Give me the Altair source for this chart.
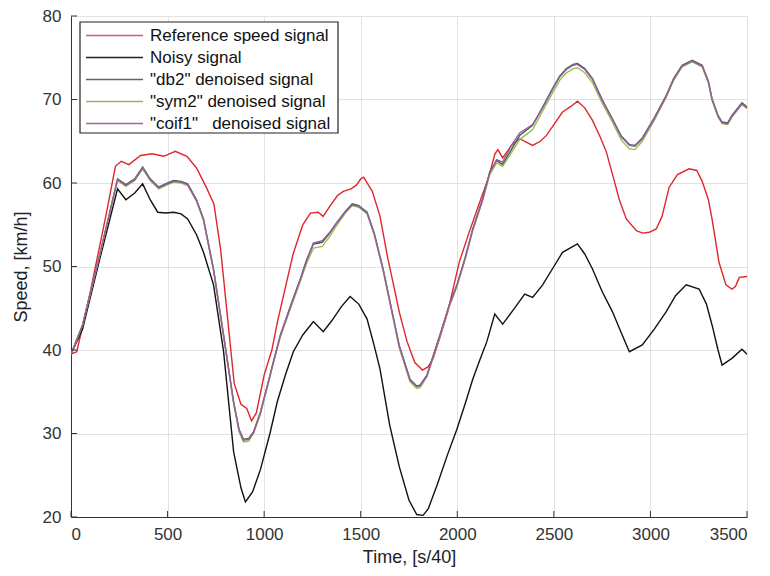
import altair as alt
import pandas as pd

# ---- Reference speed signal ----
ref_t = [0, 30, 100, 180, 230, 260, 300, 360, 420, 480,
         540, 600, 650, 700, 740, 775, 810, 845, 880, 910,
         935, 960, 1000, 1040, 1070, 1110, 1150, 1200, 1240, 1280,
         1305, 1340, 1380, 1410, 1450, 1480, 1500, 1515, 1560, 1600,
         1640, 1670, 1700, 1740, 1780, 1820, 1850, 1875, 1910, 1950,
         2010, 2060, 2116, 2160, 2195, 2210, 2235, 2280, 2323, 2390,
         2430, 2462, 2500, 2545, 2590, 2622, 2660, 2700, 2740, 2772,
         2810, 2839, 2875, 2927, 2960, 2994, 3030, 3060, 3097, 3140,
         3200, 3240, 3268, 3300, 3319, 3355, 3391, 3422, 3440, 3460,
         3500]
ref_v = [39.5, 39.8, 47.0, 56.0, 62.0, 62.6, 62.2, 63.3, 63.5, 63.2,
         63.8, 63.2, 61.8, 59.5, 57.5, 52.0, 44.0, 36.0, 33.5, 33.0,
         31.5, 32.5, 37.0, 40.0, 43.5, 47.5, 51.5, 55.0, 56.4, 56.5,
         56.0, 57.2, 58.5, 59.0, 59.3, 59.8, 60.5, 60.7, 59.0, 56.0,
         51.0, 47.8, 44.5, 41.0, 38.5, 37.6, 38.0, 39.0, 41.5, 44.5,
         50.5, 54.0, 57.7, 60.5, 63.5, 64.0, 63.0, 64.5, 65.3, 64.5,
         65.0, 65.7, 67.0, 68.5, 69.2, 69.8, 69.0, 67.5, 65.5, 63.7,
         60.5, 58.0, 55.7, 54.3, 54.0, 54.1, 54.5, 56.0, 59.5, 61.0,
         61.7, 61.5, 60.2, 58.0, 55.7, 50.5, 47.8, 47.3, 47.6, 48.7,
         48.8]

# ---- Noisy signal ----
noisy_t = [0, 60, 150, 241, 284, 330, 371, 410, 449, 490,
           532, 570, 604, 650, 686, 738, 790, 842, 880, 903,
           940, 981, 1030, 1068, 1110, 1151, 1200, 1255, 1306, 1350,
           1400, 1445, 1490, 1533, 1570, 1600, 1650, 1700, 1750, 1790,
           1823, 1850, 1895, 1950, 1998, 2040, 2080, 2120, 2153, 2194,
           2235, 2290, 2349, 2390, 2442, 2500, 2545, 2622, 2660, 2700,
           2750, 2803, 2850, 2891, 2958, 3020, 3082, 3130, 3185, 3252,
           3290, 3319, 3350, 3371, 3422, 3474, 3500]
noisy_v = [39.5, 42.5, 51.0, 59.3, 58.0, 58.8, 59.9, 58.0, 56.5, 56.4,
           56.5, 56.3, 55.7, 53.8, 51.7, 47.8, 39.8, 27.8, 23.5, 21.8,
           23.0, 25.7, 30.0, 33.8, 37.0, 39.8, 41.8, 43.4, 42.2, 43.5,
           45.2, 46.4, 45.5, 43.7, 40.5, 37.7, 31.0, 26.0, 22.0, 20.3,
           20.2, 21.0, 23.8, 27.5, 30.5, 33.5, 36.5, 39.0, 41.0, 44.3,
           43.1, 44.8, 46.7, 46.3, 47.8, 50.0, 51.7, 52.7, 51.5, 49.7,
           47.0, 44.6, 42.0, 39.8, 40.6, 42.5, 44.6, 46.5, 47.8, 47.3,
           45.5, 43.0, 40.0, 38.2, 39.0, 40.1, 39.5]

# ---- Denoised signals (shared time grid) ----
den_t = [0, 60, 150, 241, 284, 330, 371, 410, 454, 500,
         532, 570, 604, 650, 686, 738, 790, 842, 870, 893,
         920, 945, 980, 1017, 1050, 1084, 1140, 1187, 1220, 1255,
         1301, 1340, 1378, 1420, 1456, 1490, 1533, 1570, 1616, 1668,
         1700, 1755, 1790, 1807, 1843, 1910, 1960, 1998, 2040, 2080,
         2130, 2168, 2204, 2235, 2280, 2323, 2390, 2440, 2493, 2530,
         2565, 2600, 2622, 2660, 2700, 2750, 2803, 2850, 2891, 2920,
         2958, 3020, 3082, 3120, 3164, 3216, 3268, 3300, 3319, 3350,
         3371, 3400, 3422, 3474, 3500]
db2_v = [39.5, 43.0, 51.5, 60.5, 59.8, 60.5, 61.9, 60.5, 59.5, 60.0,
         60.3, 60.2, 59.9, 58.0, 55.7, 49.7, 41.8, 33.8, 30.5, 29.3,
         29.4, 30.2, 32.5, 35.8, 38.8, 41.8, 45.5, 48.5, 50.8, 52.7,
         52.9, 54.0, 55.3, 56.6, 57.5, 57.3, 56.5, 54.0, 49.7, 44.0,
         40.5, 36.5, 35.7, 35.8, 37.0, 41.8, 45.5, 47.8, 51.0, 54.5,
         58.0, 61.3, 62.7, 62.2, 64.0, 65.7, 66.9, 69.0, 71.3, 72.8,
         73.7, 74.2, 74.3, 73.7, 72.5, 70.0, 67.7, 65.6, 64.6, 64.5,
         65.4, 67.8, 70.5, 72.5, 74.1, 74.7, 74.1, 72.2, 70.1, 68.1,
         67.3, 67.2, 68.1, 69.6, 69.1]
sym2_v = [39.5, 43.0, 51.5, 60.3, 59.6, 60.3, 61.7, 60.3, 59.3, 59.8,
          60.1, 60.0, 59.7, 57.8, 55.5, 49.5, 41.6, 33.6, 30.2, 29.0,
          29.1, 30.0, 32.3, 35.6, 38.6, 41.6, 45.2, 48.2, 50.4, 52.2,
          52.4, 53.6, 55.0, 56.4, 57.3, 57.1, 56.3, 53.8, 49.5, 43.8,
          40.2, 36.2, 35.4, 35.5, 36.8, 41.6, 45.3, 47.6, 50.8, 54.3,
          57.8, 61.0, 62.4, 62.0, 63.6, 65.2, 66.4, 68.5, 70.8, 72.3,
          73.2, 73.7, 73.8, 73.2, 72.0, 69.6, 67.3, 65.1, 64.1, 64.0,
          65.0, 67.5, 70.3, 72.3, 73.9, 74.5, 73.9, 72.0, 69.9, 67.9,
          67.1, 67.0, 67.9, 69.4, 68.9]
coif1_v = [39.5, 43.0, 51.5, 60.4, 59.7, 60.4, 61.8, 60.4, 59.4, 59.9,
           60.2, 60.1, 59.8, 57.9, 55.6, 49.6, 41.7, 33.7, 30.4, 29.2,
           29.3, 30.1, 32.4, 35.7, 38.7, 41.7, 45.4, 48.4, 50.7, 52.8,
           53.1, 54.1, 55.3, 56.5, 57.4, 57.2, 56.4, 53.9, 49.6, 43.9,
           40.4, 36.4, 35.6, 35.7, 36.9, 41.7, 45.4, 47.7, 50.9, 54.4,
           57.9, 61.2, 62.8, 62.5, 64.5, 66.0, 67.0, 68.9, 71.2, 72.7,
           73.6, 74.1, 74.2, 73.6, 72.4, 69.9, 67.6, 65.5, 64.5, 64.4,
           65.3, 67.7, 70.4, 72.4, 74.0, 74.6, 74.0, 72.1, 70.0, 68.0,
           67.2, 67.1, 68.0, 69.5, 69.0]

series_names = ['Reference speed signal', 'Noisy signal',
                '"db2" denoised signal', '"sym2" denoised signal',
                '"coif1"\u00a0\u00a0\u00a0denoised signal']
series_colors = ['#e0262c', '#111111', '#3f5d5a', '#96c24a', '#9b5aa0']
legend_colors = ['#c8606e', '#222222', '#4f6a6a', '#8fb56a', '#9a6a98']

x_ticks = [0, 500, 1000, 1500, 2000, 2500, 3000, 3500]
y_ticks = [20, 30, 40, 50, 60, 70, 80]

frames = []
for name, t, v in [(series_names[0], ref_t, ref_v),
                   (series_names[1], noisy_t, noisy_v),
                   (series_names[2], den_t, db2_v),
                   (series_names[3], den_t, sym2_v),
                   (series_names[4], den_t, coif1_v)]:
    assert len(t) == len(v), (name, len(t), len(v))
    frames.append(pd.DataFrame({"time": t, "speed": v, "series": name,
                                "order": series_names.index(name)}))
df = pd.concat(frames, ignore_index=True)

W, H = 676, 501
FONT = "Liberation Sans"

xscale = alt.Scale(domain=[0, 3500], nice=False, zero=False)
yscale = alt.Scale(domain=[20, 80], nice=False, zero=False)

lines = alt.Chart(df).mark_line(strokeWidth=1.4, clip=True).encode(
    x=alt.X("time:Q", scale=xscale,
            axis=alt.Axis(title="Time, [s/40]", values=x_ticks, ticks=False,
                          format="d", labelPadding=9, titlePadding=6, grid=True,
                          gridColor="#e2e2e2", domainColor="#333333",
                          labelFontSize=17, titleFontSize=18,
                          titleFontWeight="normal", labelColor="#333333",
                          titleColor="#222222", labelFont=FONT, titleFont=FONT)),
    y=alt.Y("speed:Q", scale=yscale,
            axis=alt.Axis(title="Speed, [km/h]", values=y_ticks, ticks=False,
                          labelPadding=10, titlePadding=12, grid=True,
                          gridColor="#e2e2e2", domainColor="#333333",
                          labelFontSize=17, titleFontSize=18,
                          titleFontWeight="normal", labelColor="#333333",
                          titleColor="#222222", labelFont=FONT, titleFont=FONT)),
    color=alt.Color("series:N",
                    scale=alt.Scale(domain=series_names, range=series_colors),
                    legend=None),
    detail="series:N",
    order=alt.Order("order:Q"),
)

tick_df_x = pd.DataFrame({"time": x_ticks})
tick_df_y = pd.DataFrame({"speed": y_ticks})
xt = alt.Chart(tick_df_x).mark_rule(color="#333333", strokeWidth=1).encode(
    x=alt.X("time:Q", scale=xscale), y=alt.value(H), y2=alt.value(H - 6))
yt = alt.Chart(tick_df_y).mark_rule(color="#333333", strokeWidth=1).encode(
    y=alt.Y("speed:Q", scale=yscale), x=alt.value(0), x2=alt.value(6))

# ---- Legend box (drawn by hand, MATLAB style) ----
LX0, LX1, LY0, LY1 = 9, 267, 6, 117
ROW0, ROWSTEP = 19.5, 22
box = alt.Chart(pd.DataFrame({"k": [0]})).mark_rect(
    fill="white", stroke="#222222", strokeWidth=1.2).encode(
    x=alt.value(LX0), x2=alt.value(LX1), y=alt.value(LY0), y2=alt.value(LY1))

legend_layers = [box]
for i, (name, col) in enumerate(zip(series_names, legend_colors)):
    yy = ROW0 + ROWSTEP * i
    legend_layers.append(
        alt.Chart(pd.DataFrame({"k": [i]})).mark_rule(
            color=col, strokeWidth=1.6).encode(
            x=alt.value(15), x2=alt.value(72), y=alt.value(yy)))
    legend_layers.append(
        alt.Chart(pd.DataFrame({"k": [i]})).mark_text(
            align="left", baseline="middle", font=FONT, fontSize=17,
            color="#111111").encode(
            x=alt.value(79), y=alt.value(yy + 0.5), text=alt.value(name)))

chart = alt.layer(lines, xt, yt, *legend_layers).properties(
    width=W, height=H,
    autosize=alt.AutoSizeParams(type="none"),
    padding={"left": 63, "top": 8, "right": 14, "bottom": 52},
    background="white",
).configure_view(stroke="#d8d8d8", strokeWidth=1)

chart.save("out.html", embed_options={"renderer": "svg", "actions": False})
